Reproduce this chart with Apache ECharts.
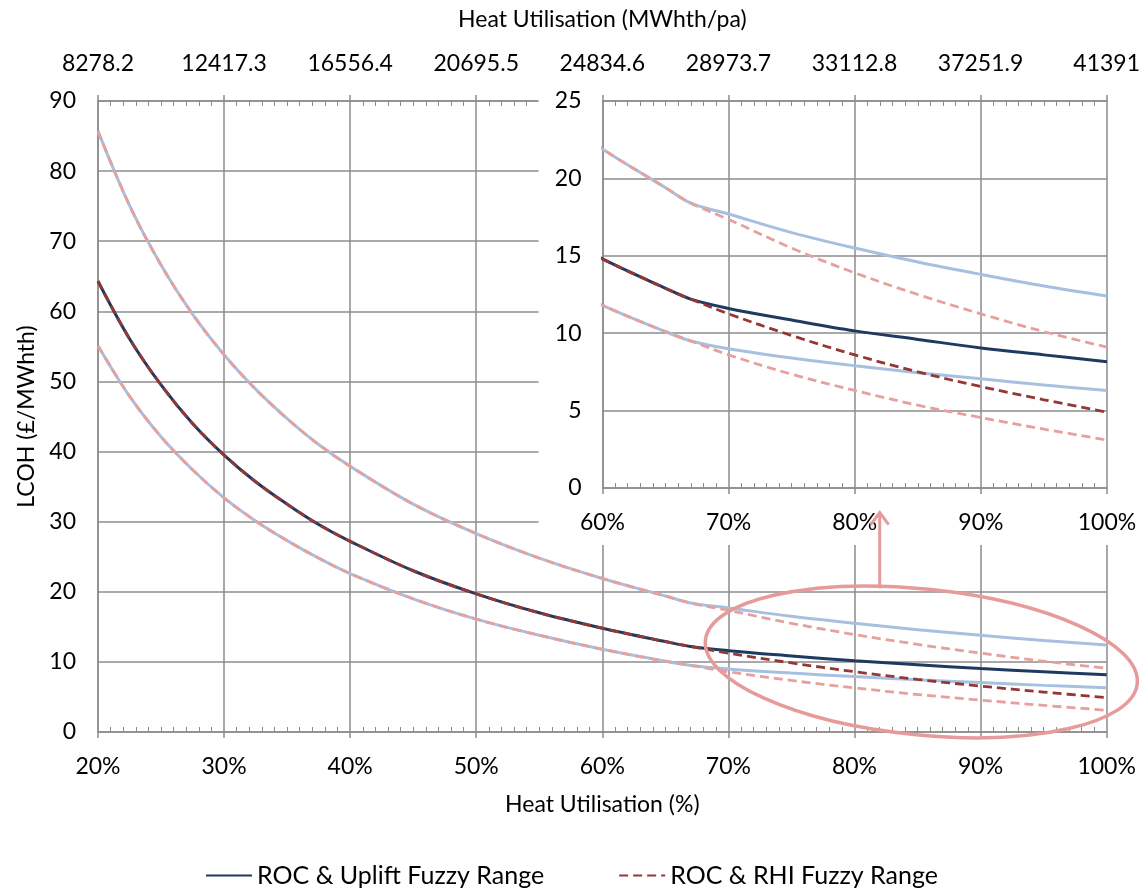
<!DOCTYPE html>
<html>
<head>
<meta charset="utf-8">
<script src="https://cdn.jsdelivr.net/npm/echarts@6/dist/echarts.min.js"></script>
<style>
  html, body { margin: 0; padding: 0; background: #fff; }
  #chart { width: 1143px; height: 893px; }
</style>
</head>
<body>
<div id="chart"></div>
<script>
// heat utilisation (%) sample points
const heatPct = [20, 22.5, 25, 27.5, 30, 32.5, 35, 37.5, 40, 45, 50, 55, 60, 65, 67, 70, 75, 80, 85, 90, 95, 100];

// ROC & Uplift fuzzy range (LCOH, £/MWhth)
const upliftHigh = [85.7, 75.1, 66.6, 59.6, 53.8, 48.9, 44.7, 41.0, 37.9, 32.5, 28.3, 24.8, 21.9, 19.4, 18.4, 17.7, 16.5, 15.5, 14.6, 13.8, 13.05, 12.4];
const upliftMid = [64.3, 56.1, 49.5, 44.0, 39.5, 35.7, 32.5, 29.6, 27.2, 23.0, 19.7, 17.0, 14.8, 12.9, 12.2, 11.6, 10.85, 10.15, 9.6, 9.05, 8.6, 8.15];
const upliftLow = [55.1, 47.9, 42.1, 37.4, 33.4, 30.1, 27.3, 24.8, 22.6, 19.0, 16.1, 13.8, 11.8, 10.1, 9.5, 9.0, 8.4, 7.9, 7.45, 7.05, 6.65, 6.3];

// ROC & RHI fuzzy range
const rhiHigh = [85.7, 75.1, 66.6, 59.6, 53.8, 48.9, 44.7, 41.0, 37.9, 32.5, 28.3, 24.8, 21.9, 19.4, 18.4, 17.35, 15.5, 13.9, 12.5, 11.25, 10.1, 9.1];
const rhiMid = [64.3, 56.1, 49.5, 44.0, 39.5, 35.7, 32.5, 29.6, 27.2, 23.0, 19.7, 17.0, 14.8, 12.9, 12.2, 11.25, 9.85, 8.6, 7.5, 6.55, 5.7, 4.9];
const rhiLow = [55.1, 47.9, 42.1, 37.4, 33.4, 30.1, 27.3, 24.8, 22.6, 19.0, 16.1, 13.8, 11.8, 10.1, 9.5, 8.6, 7.35, 6.3, 5.35, 4.55, 3.8, 3.1];

// top axis tick labels (MWhth/pa)
const topTickLabels = ['8278.2', '12417.3', '16556.4', '20695.5', '24834.6', '28973.7', '33112.8', '37251.9', '41391'];

const FONT = 'Lato';
const GRID_GREY = '#8c8c8c';
const NAVY = '#1f3a60';
const LIGHT_BLUE = '#a7c0e0';
const DARK_RED = '#953735';
const LIGHT_RED = '#e6a09e';
const MARK_RED = '#e79a9a';

const pairs = (ys) => heatPct.map((x, i) => [x, ys[i]]);

function xAxisDef(gridIndex, position, min, max, z, extra) {
  return Object.assign({
    type: 'value',
    gridIndex,
    position,
    min,
    max,
    interval: 10,
    z,
    axisLine: { show: true, lineStyle: { color: GRID_GREY, width: 1.5 } },
    axisTick: { show: true, inside: true, length: -6, lineStyle: { color: GRID_GREY, width: 1.5 } },
    minorTick: { show: true, splitNumber: 10, length: 5, lineStyle: { color: GRID_GREY, width: 1 } },
    splitLine: { show: false },
    axisLabel: { show: false }
  }, extra);
}

const labelText = { color: '#000', fontFamily: FONT, fontSize: 23 };

function lineSeries(name, ys, xIdx, yIdx, color, dashed, z) {
  return {
    name,
    type: 'line',
    xAxisIndex: xIdx,
    yAxisIndex: yIdx,
    data: pairs(ys),
    smooth: 0.35,
    showSymbol: false,
    symbol: 'none',
    z,
    lineStyle: { color, width: dashed ? 2.8 : 3, type: dashed ? [9, 5] : 'solid' },
    itemStyle: { color }
  };
}

function seriesSet(xIdx, yIdx, z) {
  return [
    lineSeries('Uplift high', upliftHigh, xIdx, yIdx, LIGHT_BLUE, false, z),
    lineSeries('Uplift low', upliftLow, xIdx, yIdx, LIGHT_BLUE, false, z),
    lineSeries('ROC & Uplift Fuzzy Range', upliftMid, xIdx, yIdx, NAVY, false, z),
    lineSeries('RHI high', rhiHigh, xIdx, yIdx, LIGHT_RED, true, z + 1),
    lineSeries('RHI low', rhiLow, xIdx, yIdx, LIGHT_RED, true, z + 1),
    lineSeries('ROC & RHI Fuzzy Range', rhiMid, xIdx, yIdx, DARK_RED, true, z + 1)
  ];
}

const option = {
  animation: false,
  backgroundColor: '#fff',
  textStyle: { fontFamily: FONT },
  grid: [
    { left: 98, top: 101, width: 1009, height: 631 },
    { left: 602.5, top: 101, width: 504.5, height: 387 }
  ],
  xAxis: [
    xAxisDef(0, 'bottom', 20, 100, 0, {
      axisLabel: Object.assign({ show: true, margin: 23, formatter: '{value}%' }, labelText),
      splitLine: { show: true, lineStyle: { color: GRID_GREY, width: 1.5 } },
      name: 'Heat Utilisation (%)',
      nameLocation: 'middle',
      nameGap: 61,
      nameTextStyle: labelText
    }),
    xAxisDef(0, 'top', 20, 100, 0, {
      axisLabel: Object.assign({
        show: true,
        margin: 26,
        formatter: (v) => topTickLabels[Math.round((v - 20) / 10)]
      }, labelText),
      name: 'Heat Utilisation (MWhth/pa)',
      nameLocation: 'middle',
      nameGap: 70,
      nameTextStyle: labelText
    }),
    xAxisDef(1, 'bottom', 60, 100, 11, {
      axisLabel: Object.assign({ show: true, margin: 23, formatter: '{value}%' }, labelText),
      splitLine: { show: true, lineStyle: { color: GRID_GREY, width: 1.5 } }
    }),
    xAxisDef(1, 'top', 60, 100, 11, {})
  ],
  yAxis: [
    {
      type: 'value',
      gridIndex: 0,
      min: 0,
      max: 90,
      interval: 10,
      z: 0,
      axisLine: { show: true, lineStyle: { color: GRID_GREY, width: 1.5 } },
      axisTick: { show: false },
      axisLabel: Object.assign({ margin: 22 }, labelText),
      splitLine: { show: true, lineStyle: { color: GRID_GREY, width: 1.5 } },
      name: 'LCOH (£/MWhth)',
      nameLocation: 'middle',
      nameGap: 56,
      nameTextStyle: labelText
    },
    {
      type: 'value',
      gridIndex: 1,
      min: 0,
      max: 25,
      interval: 5,
      z: 11,
      axisLine: { show: true, lineStyle: { color: GRID_GREY, width: 1.5 } },
      axisTick: { show: false },
      axisLabel: Object.assign({ margin: 21 }, labelText),
      splitLine: { show: true, lineStyle: { color: GRID_GREY, width: 1.5 } }
    }
  ],
  legend: {
    data: ['ROC & Uplift Fuzzy Range', 'ROC & RHI Fuzzy Range'],
    bottom: 0,
    left: 'center',
    itemWidth: 46,
    itemHeight: 14,
    itemGap: 74,
    itemStyle: { opacity: 0 },
    textStyle: { color: '#000', fontFamily: FONT, fontSize: 25 }
  },
  series: [].concat(seriesSet(0, 0, 2), seriesSet(2, 1, 12))
};

const chart = echarts.init(document.getElementById('chart'));
chart.setOption(option);

// inset backdrop, zoom ellipse and arrow, placed from the axes
const insetTL = chart.convertToPixel({ gridIndex: 1 }, [60, 25]);
const insetBR = chart.convertToPixel({ gridIndex: 1 }, [100, 0]);
const ellC = chart.convertToPixel({ gridIndex: 0 }, [85.3, 10]);
const arrowBase = chart.convertToPixel({ gridIndex: 0 }, [82, 20.5]);
const arrowTip = chart.convertToPixel({ gridIndex: 0 }, [82, 31.3]);

chart.setOption({
  graphic: [
    {
      type: 'rect',
      z: 10,
      shape: { x: insetTL[0] - 64, y: insetTL[1] - 20, width: 1143 - insetTL[0] + 64, height: insetBR[1] - insetTL[1] + 77 },
      style: { fill: '#fff' }
    },
    {
      type: 'ellipse',
      z: 9,
      x: ellC[0],
      y: ellC[1],
      rotation: -0.1,
      shape: { cx: 0, cy: 0, rx: 217, ry: 73 },
      style: { fill: 'none', stroke: MARK_RED, lineWidth: 3.5 }
    },
    {
      type: 'line',
      z: 20,
      shape: { x1: arrowBase[0], y1: arrowBase[1], x2: arrowTip[0], y2: arrowTip[1] + 2 },
      style: { stroke: MARK_RED, lineWidth: 3 }
    },
    {
      type: 'polyline',
      z: 20,
      shape: { points: [[arrowTip[0] - 9, arrowTip[1] + 12], [arrowTip[0], arrowTip[1]], [arrowTip[0] + 9, arrowTip[1] + 12]] },
      style: { fill: 'none', stroke: MARK_RED, lineWidth: 3 }
    }
  ]
});
</script>
</body>
</html>
